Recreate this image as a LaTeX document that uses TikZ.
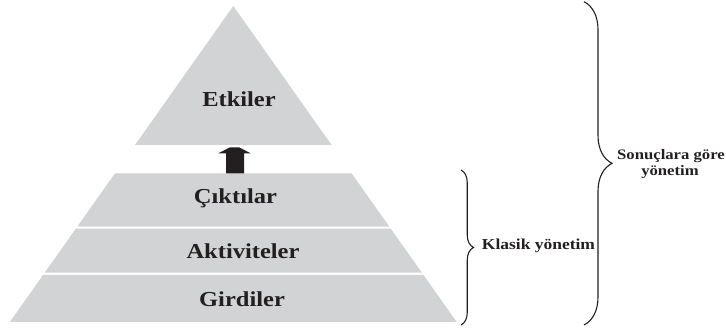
\documentclass[tikz,border=0pt]{standalone}
\usepackage{fontspec}
\setmainfont{Liberation Serif}[FakeStretch=1.15]
\usetikzlibrary{decorations.pathreplacing}
\definecolor{bandgray}{RGB}{209,211,212}
\definecolor{ink}{RGB}{35,31,32}
\tikzset{
  band/.style={fill=bandgray, draw=none},
  lvl/.style={font=\fontsize{21.3}{24}\selectfont\bfseries, text=ink, anchor=base, inner sep=0pt},
  side/.style={font=\fontsize{15.2}{17}\selectfont\bfseries, text=ink, inner sep=0pt},
  bracepath/.style={draw=ink, line width=1.1pt, decorate},
  blockarrow/.style={fill=ink, draw=none}
}
\begin{document}
\begin{tikzpicture}[x=1pt, y=-1pt]
\useasboundingbox (0,0) rectangle (726,328);
% pyramid parts
\path[band] (233.3,6) -- (331.6,145) -- (135,145) -- cycle;
\path[band] (115,173.3) -- (351.6,173.3) -- (389.3,226.7) -- (77.3,226.7) -- cycle;
\path[band] (75.8,228.7) -- (390.8,228.7) -- (421.9,272.7) -- (44.7,272.7) -- cycle;
\path[band] (43.1,275) -- (423.5,275) -- (456.7,322) -- (9.9,322) -- cycle;
% arrow
\path[blockarrow] (226,173.3) -- (226,153.3) -- (218.3,153.3) -- (230,147.3) -- (239,147.3) -- (250.7,153.3) -- (244,153.3) -- (244,173.3) -- cycle;
% labels
\node[lvl] (etk) at (239,106.7) {Etkiler};
\node[lvl] (cik) at (235.5,204) {Çıktılar};
\node[lvl] (akt) at (243,258.3) {Aktiviteler};
\node[lvl] (gir) at (242,306.7) {Girdiler};
% braces
\coordinate (kt) at (461,170);
\coordinate (kb) at (461,325);
\draw[bracepath, decoration={brace, amplitude=12.5pt, aspect=0.5}] (kt) -- (kb);
\node[side, anchor=base west] (kla) at (481.7,250) {Klasik yönetim};
\coordinate (st) at (584,1.7);
\coordinate (sb) at (584,325);
\draw[bracepath, decoration={brace, amplitude=28pt, aspect=0.5}] (st) -- (sb);
\node[side, anchor=base, font=\fontsize{14.5}{16}\selectfont\bfseries] (son1) at (671,160) {Sonuçlara göre};
\node[side, anchor=base, font=\fontsize{14.5}{16}\selectfont\bfseries] (son2) at (670,175.7) {yönetim};
\end{tikzpicture}
\end{document}
